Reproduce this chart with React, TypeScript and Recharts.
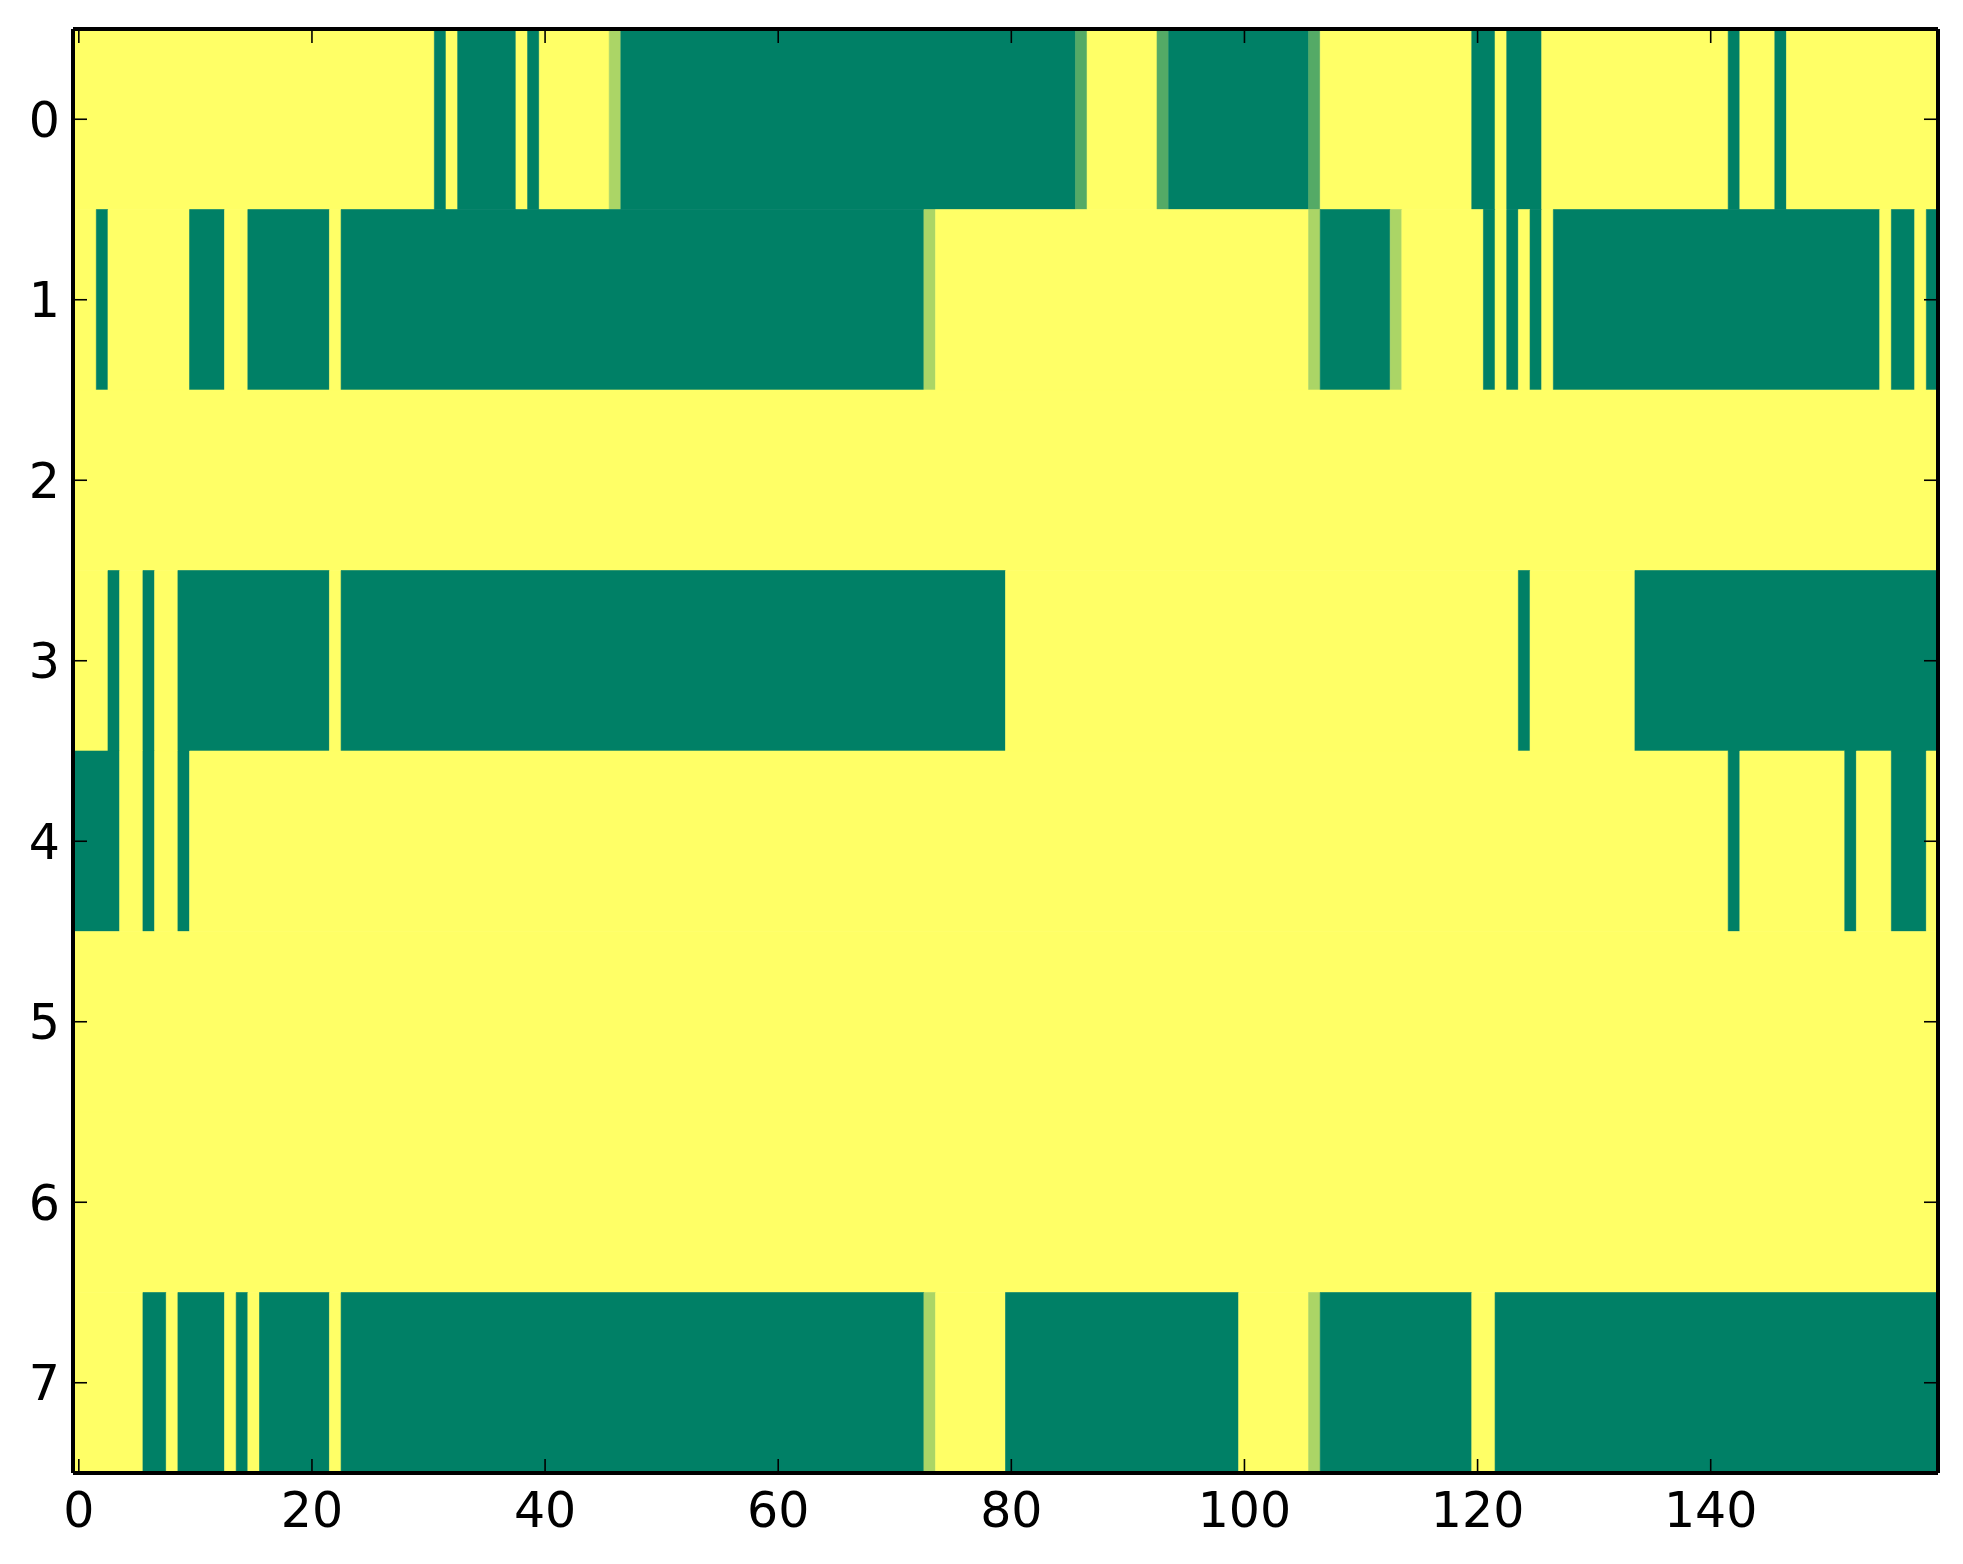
import { ComposedChart, XAxis, YAxis, Scatter, ReferenceArea } from 'recharts'

// run-length rows: [value, number of columns], read left to right (160 columns each)
const row0: [number, number][] = [
  [1, 31], [0, 1], [1, 1], [0, 5], [1, 1], [0, 1], [1, 6], [0.67, 1], [0, 39], [0.33, 1],
  [1, 6], [0.33, 1], [0, 12], [0.33, 1], [1, 13], [0, 2], [1, 1], [0, 3], [1, 16], [0, 1],
  [1, 3], [0, 1], [1, 13],
]
const row1: [number, number][] = [
  [1, 2], [0, 1], [1, 7], [0, 3], [1, 2], [0, 7], [1, 1], [0, 50], [0.67, 1], [1, 32],
  [0.67, 1], [0, 6], [0.67, 1], [1, 7], [0, 1], [1, 1], [0, 1], [1, 1], [0, 1], [1, 1],
  [0, 28], [1, 1], [0, 2], [1, 1], [0, 1],
]
const row2: [number, number][] = [[1, 160]]
const row3: [number, number][] = [
  [1, 3], [0, 1], [1, 2], [0, 1], [1, 2], [0, 13], [1, 1], [0, 57], [1, 44], [0, 1],
  [1, 9], [0, 26],
]
const row4: [number, number][] = [
  [0, 4], [1, 2], [0, 1], [1, 2], [0, 1], [1, 132], [0, 1], [1, 9], [0, 1], [1, 3],
  [0, 3], [1, 1],
]
const row5: [number, number][] = [[1, 160]]
const row6: [number, number][] = [[1, 160]]
const row7: [number, number][] = [
  [1, 6], [0, 2], [1, 1], [0, 4], [1, 1], [0, 1], [1, 1], [0, 6], [1, 1], [0, 50],
  [0.67, 1], [1, 6], [0, 20], [1, 6], [0.67, 1], [0, 13], [1, 2], [0, 38],
]

const rows = [row0, row1, row2, row3, row4, row5, row6, row7]
const xTicks = [0, 20, 40, 60, 80, 100, 120, 140]
const yTicks = [0, 1, 2, 3, 4, 5, 6, 7]

const W = 1963
const H = 1564
const FONT = '"DejaVu Sans", sans-serif'
const FONT_SIZE = 49
const TICK_LEN = 14
const X_PAD = 18
const Y_PAD = 13

// matplotlib "summer" colormap
function summer(v: number) {
  const r = Math.round(255 * v)
  const g = Math.round(255 * (0.5 + 0.5 * v))
  return `rgb(${r},${g},102)`
}

// turn runs into cell spans
const segments = rows.flatMap((runs, r) => {
  let start = 0
  return runs.map(([value, len]) => {
    const seg = { row: r, x1: start - 0.5, x2: start + len - 0.5, value }
    start += len
    return seg
  })
})
const centers = segments.map(s => ({ x: (s.x1 + s.x2) / 2, y: s.row }))

const BottomTick = ({ x, y, payload }: any) => (
  <g>
    <line x1={x} x2={x} y1={y - X_PAD} y2={y - X_PAD - TICK_LEN} stroke="#000" strokeWidth={1.6} />
    <text x={x} y={y} dy="0.73em" textAnchor="middle" fontFamily={FONT} fontSize={FONT_SIZE} fill="#000">
      {payload.value}
    </text>
  </g>
)

const TopTick = ({ x, y }: any) => (
  <line x1={x} x2={x} y1={y} y2={y + TICK_LEN} stroke="#000" strokeWidth={1.6} />
)

const LeftTick = ({ x, y, payload }: any) => (
  <g>
    <line x1={x + Y_PAD} x2={x + Y_PAD + TICK_LEN} y1={y} y2={y} stroke="#000" strokeWidth={1.6} />
    <text x={x} y={y} dy="0.36em" textAnchor="end" fontFamily={FONT} fontSize={FONT_SIZE} fill="#000">
      {payload.value}
    </text>
  </g>
)

const RightTick = ({ x, y }: any) => (
  <line x1={x} x2={x - TICK_LEN} y1={y} y2={y} stroke="#000" strokeWidth={1.6} />
)

const axisLine = { stroke: '#000', strokeWidth: 4 }

export default function App() {
  return (
    <div>
      <style>{'body{margin:0;background:#fff}'}</style>
      <ComposedChart width={W} height={H} margin={{ top: 28, right: 24, bottom: 0, left: 0 }}>
        {segments.map((s, i) => (
          <ReferenceArea
            key={i}
            x1={s.x1}
            x2={s.x2}
            y1={s.row - 0.5}
            y2={s.row + 0.5}
            fill={summer(s.value)}
            fillOpacity={1}
            stroke={summer(s.value)}
            strokeWidth={0.6}
          />
        ))}
        <Scatter data={centers} dataKey="y" shape={() => <g />} isAnimationActive={false} />
        <Scatter data={centers} dataKey="y" xAxisId="top" yAxisId="right" shape={() => <g />}
          isAnimationActive={false} />
        <XAxis type="number" dataKey="x" domain={[-0.5, 159.5]} allowDataOverflow ticks={xTicks}
          height={91} tickSize={0} tickMargin={X_PAD} tickLine={false} axisLine={axisLine}
          tick={BottomTick} interval={0} />
        <XAxis xAxisId="top" orientation="top" type="number" dataKey="x" domain={[-0.5, 159.5]}
          allowDataOverflow ticks={xTicks} height={1} tickSize={0} tickMargin={0} tickLine={false}
          axisLine={axisLine} tick={TopTick} interval={0} />
        <YAxis type="number" dataKey="y" domain={[-0.5, 7.5]} allowDataOverflow reversed ticks={yTicks}
          width={73} tickSize={0} tickMargin={Y_PAD} tickLine={false} axisLine={axisLine}
          tick={LeftTick} interval={0} />
        <YAxis yAxisId="right" orientation="right" type="number" dataKey="y" domain={[-0.5, 7.5]}
          allowDataOverflow reversed ticks={yTicks} width={1} tickSize={0} tickMargin={0}
          tickLine={false} axisLine={axisLine} tick={RightTick} interval={0} />
      </ComposedChart>
    </div>
  )
}
